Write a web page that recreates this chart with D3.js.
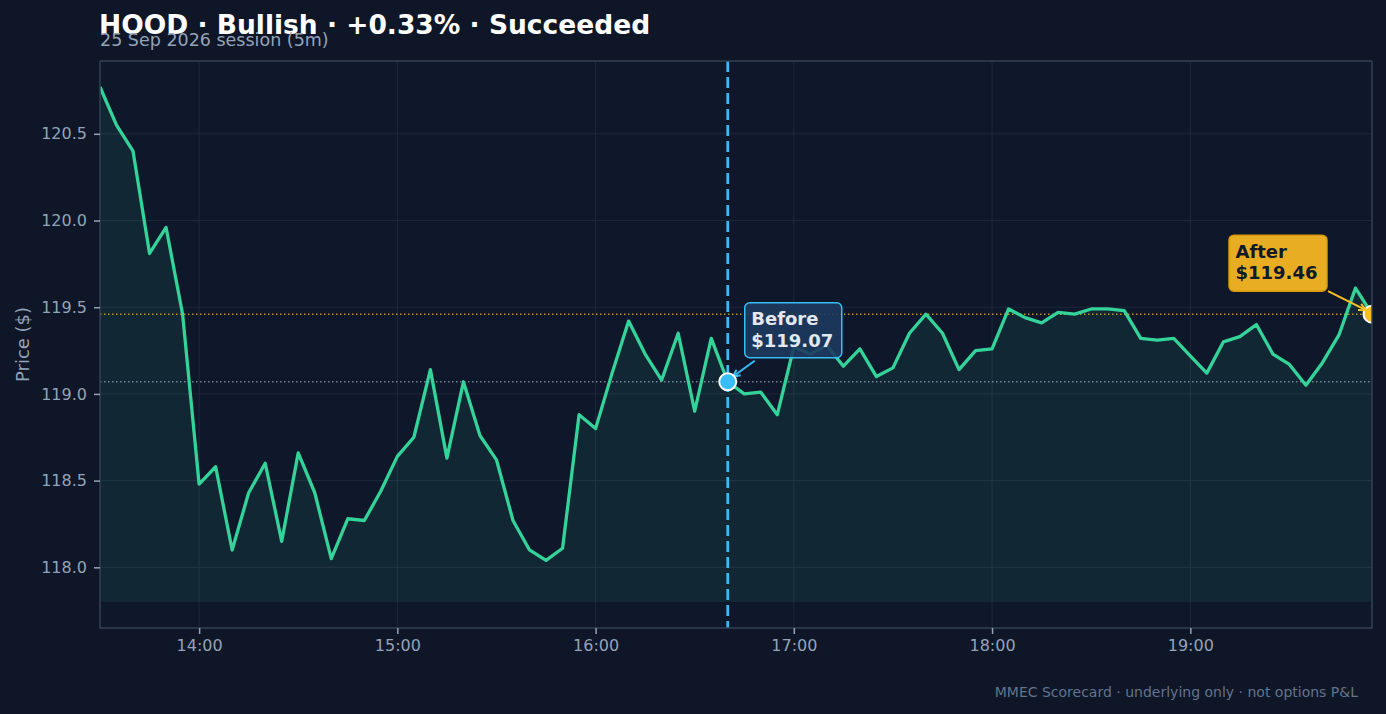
<!DOCTYPE html>
<html>
<head>
<meta charset="utf-8">
<script src="https://cdn.jsdelivr.net/npm/d3@7"></script>
<style>
  html, body { margin: 0; padding: 0; background: #0e1627; }
  svg { display: block; font-family: 'DejaVu Sans', sans-serif; }
</style>
</head>
<body>
<div id="box-div"></div>
<script>
// 5m bars, 25 Sep 2026
const times = [
  '13:30','13:35','13:40','13:45','13:50','13:55',
  '14:00','14:05','14:10','14:15','14:20','14:25','14:30','14:35','14:40','14:45','14:50','14:55',
  '15:00','15:05','15:10','15:15','15:20','15:25','15:30','15:35','15:40','15:45','15:50','15:55',
  '16:00','16:05','16:10','16:15','16:20','16:25','16:30','16:35','16:40','16:45','16:50','16:55',
  '17:00','17:05','17:10','17:15','17:20','17:25','17:30','17:35','17:40','17:45','17:50','17:55',
  '18:00','18:05','18:10','18:15','18:20','18:25','18:30','18:35','18:40','18:45','18:50','18:55',
  '19:00','19:05','19:10','19:15','19:20','19:25','19:30','19:35','19:40','19:45','19:50','19:55'
]

const prices = [
  120.77, 120.55, 120.40, 119.81, 119.96, 119.46,
  118.48, 118.58, 118.10, 118.43, 118.60, 118.15, 118.66, 118.43, 118.05, 118.28, 118.27, 118.44,
  118.64, 118.75, 119.14, 118.63, 119.07, 118.76, 118.62, 118.27, 118.10, 118.04, 118.11, 118.88,
  118.80, 119.12, 119.42, 119.23, 119.08, 119.35, 118.90, 119.32, 119.07, 119.00, 119.01, 118.88,
  119.27, 119.23, 119.28, 119.16, 119.26, 119.10, 119.15, 119.35, 119.46, 119.35, 119.14, 119.25,
  119.26, 119.49, 119.44, 119.41, 119.47, 119.46, 119.49, 119.49, 119.48, 119.32, 119.31, 119.32,
  119.22, 119.12, 119.30, 119.33, 119.40, 119.23, 119.17, 119.05, 119.18, 119.34, 119.61, 119.46
]

const yTicks = [118.0, 118.5, 119.0, 119.5, 120.0, 120.5]
const xTicks = ['14:00', '15:00', '16:00', '17:00', '18:00', '19:00']

const before = { time: '16:40', price: 119.07, label: ['Before', '$119.07'] }
const after = { time: '19:55', price: 119.46, label: ['After', '$119.46'] }
const fillBase = 117.80
const yDomain = [117.65, 120.92]

const title = 'HOOD · Bullish · +0.33% · Succeeded'
const subtitle = '25 Sep 2026 session (5m)'
const footer = 'MMEC Scorecard · underlying only · not options P&L'

const dms = {
  width: 1386,
  height: 714,
  margin: { top: 61, right: 14, bottom: 86, left: 100 }
}
dms.contentWidth = dms.width - dms.margin.left - dms.margin.right
dms.contentHeight = dms.height - dms.margin.top - dms.margin.bottom

const parseTime = d3.timeParse('%Y-%m-%d %H:%M')
const toDate = t => parseTime('2026-09-25 ' + t)

const dataset = times.map((t, i) => ({ date: toDate(t), price: prices[i] }))

const box = d3.select('#box-div').append('svg')
  .attr('width', dms.width)
  .attr('height', dms.height)

box.append('rect')
  .attr('width', dms.width)
  .attr('height', dms.height)
  .attr('fill', '#0e1627')

box.append('text')
  .attr('x', 99).attr('y', 34)
  .attr('fill', '#ffffff')
  .attr('font-size', 26.5)
  .attr('font-weight', 'bold')
  .text(title)

box.append('text')
  .attr('x', 100).attr('y', 46)
  .attr('fill', '#94a3b8')
  .attr('font-size', 17.5)
  .text(subtitle)

box.append('text')
  .attr('x', 1358).attr('y', 697)
  .attr('text-anchor', 'end')
  .attr('fill', '#64748b')
  .attr('font-size', 14)
  .text(footer)

const content = box.append('g')
  .attr('transform', `translate(${dms.margin.left},${dms.margin.top})`)

box.append('defs').append('clipPath')
  .attr('id', 'plot-clip')
  .append('rect')
  .attr('width', dms.contentWidth)
  .attr('height', dms.contentHeight)

content.append('rect')
  .attr('width', dms.contentWidth)
  .attr('height', dms.contentHeight)
  .attr('fill', '#0f172a')

const xScale = d3.scaleTime()
  .domain(d3.extent(dataset, d => d.date))
  .range([0, dms.contentWidth])

const yScale = d3.scaleLinear()
  .domain(yDomain)
  .range([dms.contentHeight, 0])

// grid
content.append('g').selectAll('line')
  .data(xTicks)
  .join('line')
  .attr('x1', d => xScale(toDate(d))).attr('x2', d => xScale(toDate(d)))
  .attr('y1', 0).attr('y2', dms.contentHeight)
  .attr('stroke', '#1e293b')
  .attr('stroke-width', 1)

content.append('g').selectAll('line')
  .data(yTicks)
  .join('line')
  .attr('x1', 0).attr('x2', dms.contentWidth)
  .attr('y1', d => yScale(d)).attr('y2', d => yScale(d))
  .attr('stroke', '#1e293b')
  .attr('stroke-width', 1)

const plot = content.append('g').attr('clip-path', 'url(#plot-clip)')

const areaGen = d3.area()
  .x(d => xScale(d.date))
  .y0(yScale(fillBase))
  .y1(d => yScale(d.price))

plot.append('path')
  .attr('d', areaGen(dataset))
  .attr('fill', '#34d399')
  .attr('fill-opacity', 0.09)

// reference levels
plot.append('line')
  .attr('x1', 0).attr('x2', dms.contentWidth)
  .attr('y1', yScale(before.price)).attr('y2', yScale(before.price))
  .attr('stroke', '#94a3b8')
  .attr('stroke-width', 1.5)
  .attr('stroke-dasharray', '1.5,2.5')
  .attr('opacity', 0.75)

plot.append('line')
  .attr('x1', 0).attr('x2', dms.contentWidth)
  .attr('y1', yScale(after.price)).attr('y2', yScale(after.price))
  .attr('stroke', '#eab308')
  .attr('stroke-width', 1.5)
  .attr('stroke-dasharray', '1.5,2.5')
  .attr('opacity', 0.8)

const lineGen = d3.line()
  .x(d => xScale(d.date))
  .y(d => yScale(d.price))

plot.append('path')
  .attr('d', lineGen(dataset))
  .attr('fill', 'none')
  .attr('stroke', '#34d399')
  .attr('stroke-width', 3.3)
  .attr('stroke-linejoin', 'round')

// entry marker line
content.append('line')
  .attr('x1', xScale(toDate(before.time))).attr('x2', xScale(toDate(before.time)))
  .attr('y1', 0).attr('y2', dms.contentHeight)
  .attr('stroke', '#38bdf8')
  .attr('stroke-width', 2.7)
  .attr('stroke-dasharray', '11,5')

// border
content.append('rect')
  .attr('width', dms.contentWidth)
  .attr('height', dms.contentHeight)
  .attr('fill', 'none')
  .attr('stroke', '#334155')
  .attr('stroke-width', 1.5)

// axes
const xAxis = content.append('g')
  .attr('transform', `translate(0,${dms.contentHeight})`)
  .call(d3.axisBottom(xScale)
    .tickValues(xTicks.map(toDate))
    .tickFormat(d3.timeFormat('%H:%M'))
    .tickSize(6)
    .tickPadding(6))

const yAxis = content.append('g')
  .call(d3.axisLeft(yScale)
    .tickValues(yTicks)
    .tickFormat(d3.format('.1f'))
    .tickSize(6)
    .tickPadding(7))

;[xAxis, yAxis].forEach(ax => {
  ax.select('.domain').remove()
  ax.selectAll('.tick line').attr('stroke', '#94a3b8').attr('stroke-width', 1.5)
  ax.selectAll('.tick text')
    .attr('fill', '#94a3b8')
    .attr('font-size', 16)
    .attr('font-family', 'DejaVu Sans, sans-serif')
})

content.append('text')
  .attr('transform', `translate(${-77},${dms.contentHeight / 2}) rotate(-90)`)
  .attr('text-anchor', 'middle')
  .attr('dy', '0.35em')
  .attr('fill', '#94a3b8')
  .attr('font-size', 18)
  .text('Price ($)')

// annotations
function arrow(g, x1, y1, x2, y2, color) {
  g.append('line')
    .attr('x1', x1).attr('y1', y1).attr('x2', x2).attr('y2', y2)
    .attr('stroke', color).attr('stroke-width', 2)
  const ang = Math.atan2(y2 - y1, x2 - x1)
  const len = 8
  const pts = [ang + 0.45, ang - 0.45].map(a => [x2 - len * Math.cos(a), y2 - len * Math.sin(a)])
  g.append('path')
    .attr('d', `M${pts[0][0]},${pts[0][1]}L${x2},${y2}L${pts[1][0]},${pts[1][1]}`)
    .attr('fill', 'none').attr('stroke', color).attr('stroke-width', 2)
}

function labelBox(g, x, y, w, h, lines, fill, stroke, color, opacity) {
  g.append('rect')
    .attr('x', x).attr('y', y).attr('width', w).attr('height', h)
    .attr('rx', 5)
    .attr('fill', fill).attr('fill-opacity', opacity)
    .attr('stroke', stroke).attr('stroke-width', 1.5)
  g.append('text')
    .attr('fill', color)
    .attr('font-size', 18)
    .attr('font-weight', 'bold')
    .selectAll('tspan')
    .data(lines)
    .join('tspan')
    .attr('x', x + 6.5)
    .attr('y', (d, i) => y + 22.5 + i * 21.6)
    .text(d => d)
}

const bx = xScale(toDate(before.time))
const by = yScale(before.price)
const ax = xScale(toDate(after.time))
const ay = yScale(after.price)

const notes = content.append('g')
arrow(notes, bx + 27, by - 21, bx + 5, by - 5, '#38bdf8')
labelBox(notes, bx + 17, by - 79, 97, 55, before.label, '#1e3a5f', '#38bdf8', '#e2e8f0', 0.9)

notes.append('circle')
  .attr('cx', bx).attr('cy', by).attr('r', 8.5)
  .attr('fill', '#38bdf8')
  .attr('stroke', '#ffffff').attr('stroke-width', 2)

arrow(notes, ax - 44, ay - 23, ax - 6, ay - 4, '#fbbf24')
labelBox(notes, ax - 143, ay - 79, 98, 56, after.label, '#f0b323', '#d99a0b', '#111827', 0.97)

plot.append('circle')
  .attr('cx', ax).attr('cy', ay).attr('r', 8.5)
  .attr('fill', '#fbbf24')
  .attr('stroke', '#ffffff').attr('stroke-width', 2)
</script>
</body>
</html>
